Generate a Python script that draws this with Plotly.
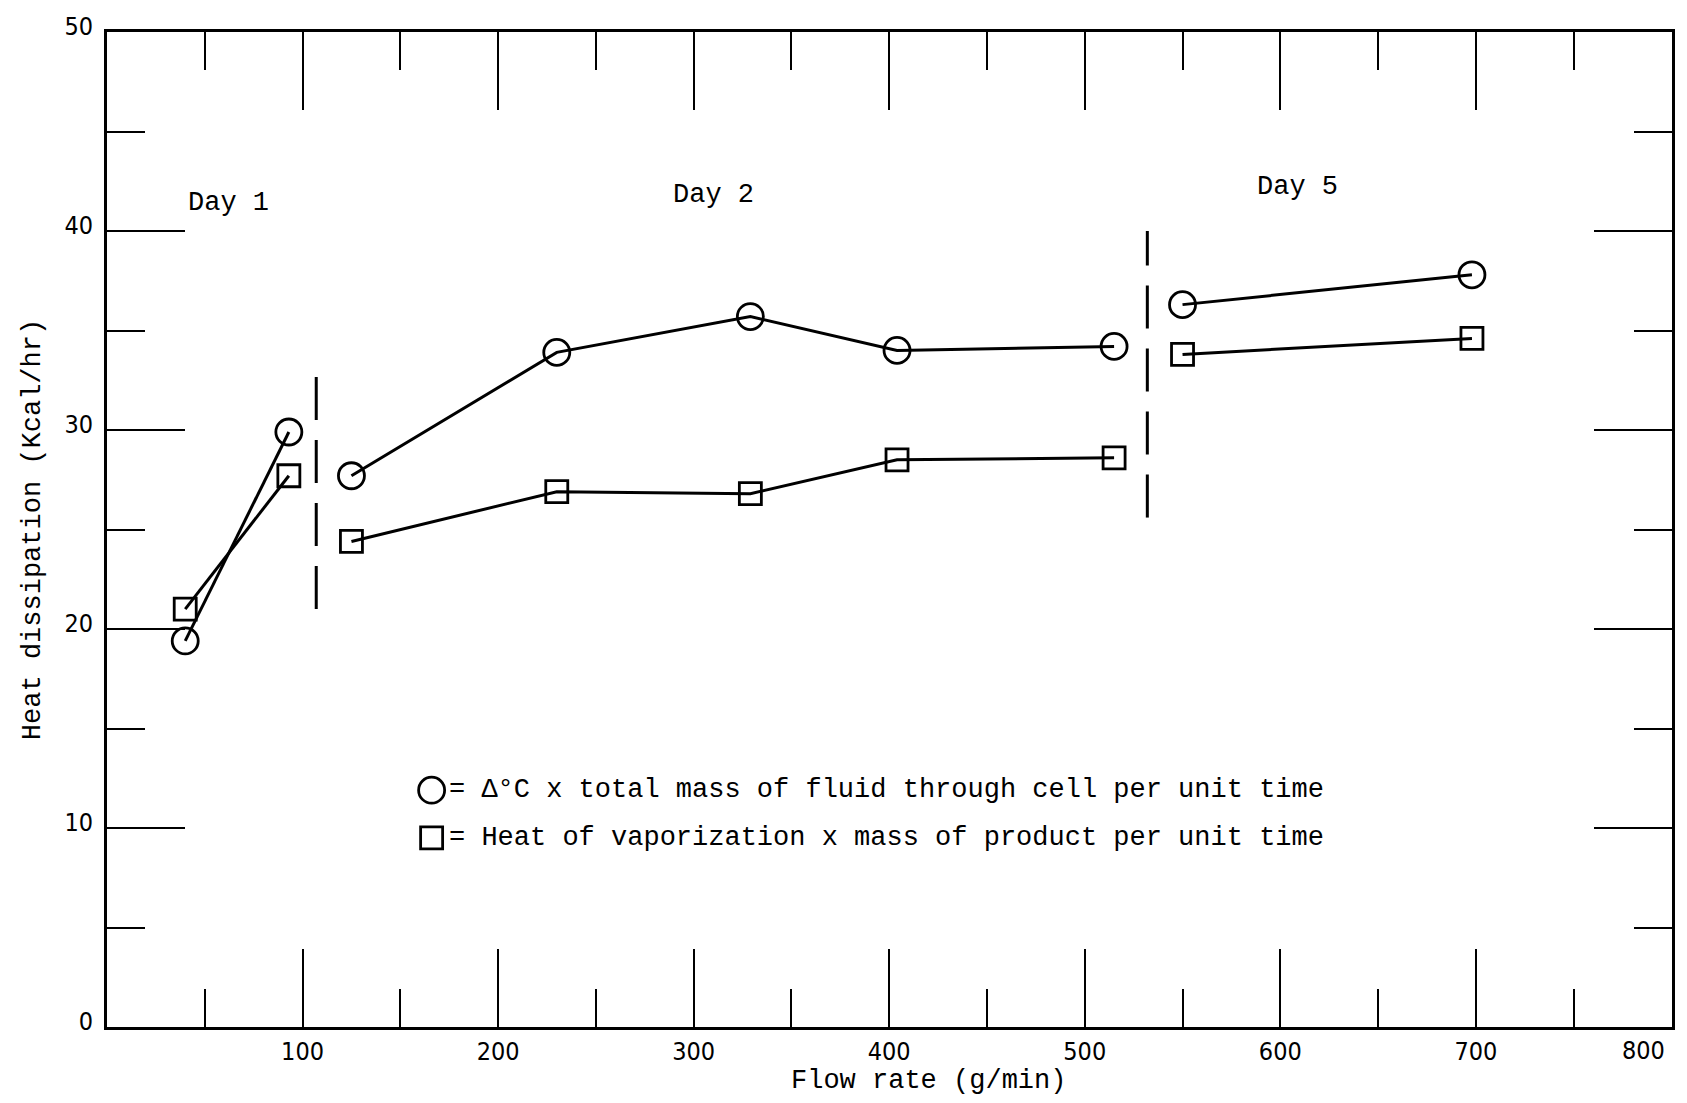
import plotly.graph_objects as go

# ---- data ----
day1_x = [40, 93]
day1_circle = [19.4, 29.9]
day1_square = [21.0, 27.7]

day2_x = [125, 230, 329, 404, 515]
day2_circle = [27.7, 33.9, 35.7, 34.0, 34.2]
day2_square = [24.4, 26.9, 26.8, 28.5, 28.6]

day5_x = [550, 698]
day5_circle = [36.3, 37.8]
day5_square = [33.8, 34.6]

sep_x = [107, 532]
sep_y_low = [21.0, 25.6]
sep_y_high = [33.0, 40.0]

day_labels = ["Day 1", "Day 2", "Day 5"]
day_label_x = [62, 310, 609]
day_label_y = [41.4, 41.8, 42.2]

legend_texts = ["= \u0394\u00b0C x total mass of fluid through cell per unit time",
                "= Heat of vaporization x mass of product per unit time"]
legend_marker_x = [166, 166]
legend_marker_y = [11.9, 9.5]
legend_text_x = 174

x_tickvals = [100, 200, 300, 400, 500, 600, 700, 800]
x_ticktext = ["100", "200", "300", "400", "500", "600", "700", ""]
x_last_label = "800"
x_last_value = 800
y_tickvals = [0, 10, 20, 30, 40, 50]

MONO = "Liberation Mono, DejaVu Sans Mono, monospace"
SANS = "DejaVu Sans Condensed, Liberation Sans, Arial, sans-serif"

fig = go.Figure()

line_style = dict(color="black", width=3)
circ = dict(symbol="circle-open", size=26, color="black", line=dict(width=2.8, color="black"))
sq = dict(symbol="square-open", size=22, color="black", line=dict(width=2.8, color="black"))

for xs, ys in [(day1_x, day1_circle), (day2_x, day2_circle), (day5_x, day5_circle)]:
    fig.add_trace(go.Scatter(x=xs, y=ys, mode="lines+markers", line=line_style,
                             marker=circ, showlegend=False, cliponaxis=False))
for xs, ys in [(day1_x, day1_square), (day2_x, day2_square), (day5_x, day5_square)]:
    fig.add_trace(go.Scatter(x=xs, y=ys, mode="lines+markers", line=line_style,
                             marker=sq, showlegend=False, cliponaxis=False))

# dashed separators between days
for sx, y0, y1 in zip(sep_x, sep_y_low, sep_y_high):
    fig.add_trace(go.Scatter(x=[sx, sx], y=[y0, y1], mode="lines",
                             line=dict(color="black", width=3, dash="43px,20px"),
                             showlegend=False, hoverinfo="skip"))

# legend markers
fig.add_trace(go.Scatter(x=legend_marker_x[:1], y=legend_marker_y[:1], mode="markers",
                         marker=circ, showlegend=False))
fig.add_trace(go.Scatter(x=legend_marker_x[1:], y=legend_marker_y[1:], mode="markers",
                         marker=sq, showlegend=False))

for t, yy in zip(legend_texts, legend_marker_y):
    fig.add_annotation(x=legend_text_x, y=yy, text=t, showarrow=False, xanchor="left",
                       yanchor="middle", font=dict(family=MONO, size=27, color="black"))

for t, xx, yy in zip(day_labels, day_label_x, day_label_y):
    fig.add_annotation(x=xx, y=yy, text=t, showarrow=False, xanchor="center",
                       yanchor="middle", font=dict(family=MONO, size=27, color="black"))

# last x tick label, pulled inside the page as in the reference
fig.add_annotation(x=x_last_value, y=0, xref="x", yref="paper", yshift=-23, xshift=-4,
                   text=x_last_label, showarrow=False, xanchor="right", yanchor="middle",
                   font=dict(family=SANS, size=25, color="black"))

# x-axis title (placed slightly right of centre as in the reference)
fig.add_annotation(x=420, y=0, xref="x", yref="paper", yshift=-54, text="Flow rate (g/min)",
                   showarrow=False, xanchor="center", yanchor="middle",
                   font=dict(family=MONO, size=27, color="black"))

fig.update_xaxes(range=[0, 800.3], tickmode="array", tickvals=x_tickvals, ticktext=x_ticktext,
                 ticks="inside", ticklen=78, tickwidth=2, tickcolor="black",
                 minor=dict(tickmode="linear", tick0=0, dtick=50, ticks="inside",
                            ticklen=38, tickwidth=2, tickcolor="black"),
                 showline=True, linewidth=3, linecolor="black", mirror="ticks",
                 showgrid=False, zeroline=False,
                 tickfont=dict(family=SANS, size=25, color="black"))
fig.update_yaxes(range=[0, 50], tickmode="array", tickvals=y_tickvals,
                 ticks="inside", ticklen=78, tickwidth=2, tickcolor="black",
                 minor=dict(tickmode="linear", tick0=0, dtick=5, ticks="inside",
                            ticklen=38, tickwidth=2, tickcolor="black"),
                 showline=True, linewidth=3, linecolor="black", mirror="ticks",
                 showgrid=False, zeroline=False, ticklabelshift=-6, ticklabelstandoff=6,
                 tickfont=dict(family=SANS, size=25, color="black"),
                 title=dict(text="Heat dissipation (Kcal/hr)", standoff=16,
                            font=dict(family=MONO, size=27, color="black")))

fig.update_layout(width=1687, height=1103, paper_bgcolor="white", plot_bgcolor="white",
                  margin=dict(l=107, r=13, t=30, b=76), showlegend=False)

fig.write_html("out.html")
